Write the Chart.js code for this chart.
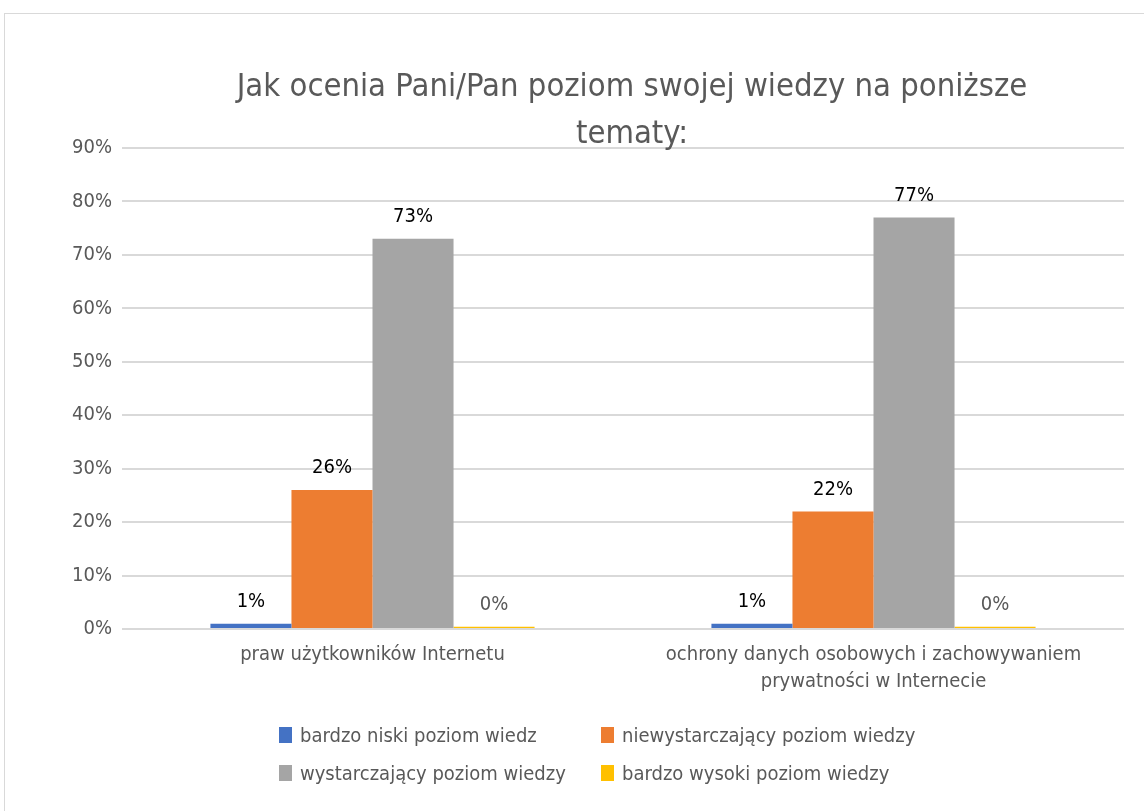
<!DOCTYPE html>
<html><head><meta charset="utf-8">
<script src="https://cdn.jsdelivr.net/npm/chart.js@4/dist/chart.umd.min.js"></script>
<style>
html,body{margin:0;padding:0;background:#fff;}
body{width:1144px;height:811px;position:relative;overflow:hidden;font-family:"Liberation Sans Narrow","DejaVu Sans Condensed","Open Sans",sans-serif;}
#frame{position:absolute;left:4px;top:13px;width:1160px;height:820px;border:1px solid #d9d9d9;}
#wrap{position:absolute;left:0;top:0;width:1144px;height:811px;}
#legend{position:absolute;left:0;top:0;width:1144px;height:811px;pointer-events:none;}
.li{position:absolute;display:flex;align-items:center;font-size:20px;color:#595959;white-space:nowrap;height:26px;}
.li span.box{display:inline-block;width:13px;height:16px;margin-right:8px;}
</style></head>
<body>
<div id="frame"></div>
<div id="wrap"><canvas id="c" width="1144" height="811"></canvas></div>
<div id="legend"></div>
<script>
const FONT = '"Liberation Sans Narrow","DejaVu Sans Condensed","Open Sans",sans-serif';
const titleLines = ['Jak ocenia Pani/Pan poziom swojej wiedzy na poniższe', 'tematy:'];
const categories = [['praw użytkowników Internetu'], ['ochrony danych osobowych i zachowywaniem', 'prywatności w Internecie']];
const seriesNames = ['bardzo niski poziom wiedz', 'niewystarczający poziom wiedzy', 'wystarczający poziom wiedzy', 'bardzo wysoki poziom wiedzy'];
const seriesColors = ['#4472C4', '#ED7D31', '#A5A5A5', '#FFC000'];
const bardzoNiski = [1, 1];
const niewystarczajacy = [26, 22];
const wystarczajacy = [73, 77];
const bardzoWysoki = [0.4, 0.4];
const seriesValues = [bardzoNiski, niewystarczajacy, wystarczajacy, bardzoWysoki];
const labelColors = ['#000000', '#000000', '#000000', '#595959'];
const yTicks = [0, 10, 20, 30, 40, 50, 60, 70, 80, 90];

const titlePlugin = {
  id: 'customTitle',
  afterDraw(chart) {
    const ctx = chart.ctx, a = chart.chartArea;
    ctx.save();
    ctx.font = '32.5px ' + FONT;
    ctx.fillStyle = '#595959';
    ctx.textAlign = 'center';
    ctx.textBaseline = 'middle';
    const cx = (a.left + a.right) / 2 + 9;
    ctx.fillText(titleLines[0], cx, 88);
    ctx.fillText(titleLines[1], cx, 135);
    ctx.restore();
  }
};
const valueLabels = {
  id: 'valueLabels',
  afterDatasetsDraw(chart) {
    const ctx = chart.ctx;
    ctx.save();
    ctx.font = '20px ' + FONT;
    ctx.textAlign = 'center';
    ctx.textBaseline = 'middle';
    chart.data.datasets.forEach((ds, i) => {
      ctx.fillStyle = labelColors[i];
      chart.getDatasetMeta(i).data.forEach((el, j) => {
        ctx.fillText(Math.round(ds.data[j]) + '%', el.x, el.y - 22);
      });
    });
    ctx.restore();
  }
};

new Chart(document.getElementById('c'), {
  type: 'bar',
  data: {
    labels: categories,
    datasets: seriesNames.map((n, i) => ({
      label: n, data: seriesValues[i], backgroundColor: seriesColors[i],
      barPercentage: 1, categoryPercentage: 0.647, borderWidth: 0
    }))
  },
  options: {
    responsive: false, animation: false, devicePixelRatio: 1,
    layout: { padding: { left: 0, top: 148, right: 20, bottom: 0 } },
    plugins: { legend: { display: false }, title: { display: false }, tooltip: { enabled: false } },
    scales: {
      y: {
        min: 0, max: 90,
        afterFit(s) { s.width = 122; },
        afterBuildTicks(s) { s.ticks = yTicks.map(v => ({ value: v })); },
        ticks: { callback: v => v + '%', color: '#595959', font: { family: FONT, size: 20 }, padding: 10 },
        grid: { color: '#d9d9d9', lineWidth: 2, drawTicks: false },
        border: { display: false }
      },
      x: {
        afterFit(s) { s.height = 182; },
        ticks: { color: '#595959', font: { family: FONT, size: 20, lineHeight: 1.35 }, padding: 12, maxRotation: 0 },
        grid: { display: false, drawTicks: false },
        border: { display: false }
      }
    }
  },
  plugins: [titlePlugin, valueLabels]
});

const legendPos = [[279, 722], [601, 722], [279, 760], [601, 760]];
const leg = document.getElementById('legend');
seriesNames.forEach((n, i) => {
  const d = document.createElement('div');
  d.className = 'li';
  d.style.left = legendPos[i][0] + 'px';
  d.style.top = legendPos[i][1] + 'px';
  d.innerHTML = '<span class="box" style="background:' + seriesColors[i] + '"></span>';
  d.appendChild(document.createTextNode(n));
  leg.appendChild(d);
});
</script>
</body></html>
